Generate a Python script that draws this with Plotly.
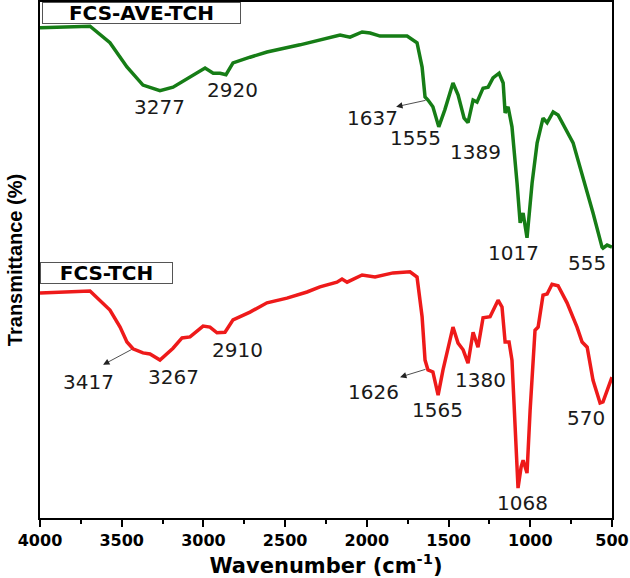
import plotly.graph_objects as go

# FTIR spectra (wavenumber in cm-1, transmittance in a.u.)
green_wn = [4000, 3694, 3572, 3468, 3370, 3266, 3186, 3100, 2990, 2940, 2898, 2862, 2819, 2715, 2611,
            2409, 2287, 2164, 2103, 2029, 1980, 1919, 1754, 1693, 1662, 1644, 1626, 1596, 1560, 1523,
            1473, 1442, 1405, 1381, 1350, 1326, 1289, 1258, 1228, 1191, 1166, 1154, 1136, 1112, 1081,
            1062, 1044, 1020, 989, 958, 922, 897, 860, 830, 738, 677, 616, 561, 555, 530, 500]
green_t = [95.0, 95.3, 92.1, 87.4, 83.9, 82.8, 83.5, 85.1, 87.2, 86.2, 86.2, 85.9, 88.2, 89.3, 90.3,
           91.7, 92.6, 93.6, 93.2, 94.2, 94.0, 93.4, 93.4, 92.1, 87.4, 81.6, 81.0, 79.7, 75.8, 79.1,
           84.3, 82.0, 77.5, 76.6, 81.0, 80.6, 83.3, 83.5, 85.3, 86.2, 84.3, 78.5, 79.7, 75.8, 64.9,
           57.2, 59.1, 54.3, 64.9, 72.7, 77.5, 76.6, 78.7, 78.1, 72.7, 66.1, 59.1, 52.5, 52.3, 52.9, 52.5]

red_wn = [4000, 3694, 3572, 3510, 3468, 3431, 3370, 3327, 3266, 3186, 3131, 3082, 3002, 2960, 2917,
          2868, 2819, 2715, 2611, 2489, 2366, 2287, 2183, 2152, 2121, 2029, 1950, 1840, 1736, 1693,
          1662, 1644, 1626, 1596, 1564, 1534, 1473, 1442, 1411, 1381, 1350, 1320, 1289, 1246, 1197,
          1173, 1154, 1130, 1112, 1093, 1075, 1056, 1044, 1020, 1001, 971, 952, 922, 897, 867,
          830, 775, 714, 683, 652, 616, 573, 555, 500]
red_t = [43.6, 44.0, 40.3, 37.0, 34.1, 32.8, 32.0, 31.8, 30.6, 32.9, 34.9, 35.1, 37.2, 37.0, 35.9,
         36.0, 38.4, 39.9, 41.7, 42.6, 43.8, 44.8, 45.7, 46.3, 45.7, 47.1, 46.7, 47.5, 47.7, 46.7,
         39.0, 30.6, 28.7, 28.3, 23.8, 28.7, 37.0, 33.9, 32.6, 30.0, 36.0, 33.1, 38.8, 39.0, 42.2,
         40.9, 34.1, 34.1, 30.6, 17.6, 5.8, 9.9, 11.2, 8.7, 20.9, 36.4, 37.0, 43.2, 43.4, 45.3,
         45.0, 41.7, 37.0, 34.1, 33.1, 26.7, 22.3, 22.5, 27.3]

# peak labels: text, label x (cm-1), label y
peak_text = ["3277", "2920", "1637", "1555", "1389", "1017", "555",
             "3417", "3267", "2910", "1626", "1565", "1380", "1068", "570"]
peak_x = [3266, 2825, 1968, 1705, 1338, 1105, 652,
          3706, 3186, 2794, 1962, 1570, 1307, 1050, 658]
peak_y = [79.7, 82.9, 77.5, 73.6, 70.9, 51.4, 49.4,
          26.4, 27.3, 32.6, 24.4, 20.9, 26.7, 2.9, 19.4]

# shoulder arrows: from curve point (tail) to head near label
arrow_tail_x = [1632, 3431, 1632]
arrow_tail_y = [81.0, 32.8, 28.9]
arrow_head_x = [1821, 3614, 1797]
arrow_head_y = [79.7, 29.7, 27.3]

tick_vals = [4000, 3500, 3000, 2500, 2000, 1500, 1000, 500]
minor_vals = [3750, 3250, 2750, 2250, 1750, 1250, 750]

fig = go.Figure()
fig.add_trace(go.Scatter(x=green_wn, y=green_t, mode='lines', name='FCS-AVE-TCH',
                         line=dict(color='#167d16', width=3.5)))
fig.add_trace(go.Scatter(x=red_wn, y=red_t, mode='lines', name='FCS-TCH',
                         line=dict(color='#ee1a1a', width=3.5)))

for t, x, y in zip(peak_text, peak_x, peak_y):
    fig.add_annotation(x=x, y=y, text=t, showarrow=False,
                       font=dict(family='DejaVu Sans', size=20, color='#1a1a1a'))

for tx, ty, hx, hy in zip(arrow_tail_x, arrow_tail_y, arrow_head_x, arrow_head_y):
    fig.add_annotation(x=hx, y=hy, ax=tx, ay=ty, axref='x', ayref='y', text='',
                       showarrow=True, arrowhead=2, arrowsize=1.6, arrowwidth=0.8,
                       arrowcolor='#222222')

# sample name boxes
fig.add_annotation(xref='paper', yref='paper', x=0.0035, y=1.0, xanchor='left', yanchor='top',
                   text='<b>FCS-AVE-TCH</b>', showarrow=False, width=195, height=18,
                   borderpad=1, bordercolor='#555555', borderwidth=1, bgcolor='white',
                   font=dict(family='DejaVu Sans', size=20, color='black'))
fig.add_annotation(xref='paper', yref='paper', x=0.0, y=0.496, xanchor='left', yanchor='top',
                   text='<b>FCS-TCH</b>', showarrow=False, width=129, height=18,
                   borderpad=1, bordercolor='#555555', borderwidth=1, bgcolor='white',
                   font=dict(family='DejaVu Sans', size=20, color='black'))

fig.update_layout(
    width=630, height=578,
    margin=dict(l=40, r=18, t=2, b=60),
    paper_bgcolor='white', plot_bgcolor='white',
    showlegend=False,
    xaxis=dict(
        range=[4000, 500], tickmode='array', tickvals=tick_vals,
        ticks='outside', ticklen=7, tickwidth=2, tickcolor='black',
        minor=dict(tickmode='array', tickvals=minor_vals, ticks='outside', ticklen=4,
                   tickwidth=2, tickcolor='black'),
        showline=True, linecolor='black', linewidth=2, mirror=True,
        showgrid=False, zeroline=False, automargin=False,
        tickfont=dict(family='DejaVu Sans', size=16, color='black', weight='bold'),
        title=dict(text='<b>Wavenumber (cm<sup>-1</sup>)</b>', standoff=4,
                   font=dict(family='DejaVu Sans', size=21, color='black')),
    ),
    yaxis=dict(
        range=[0, 100], showticklabels=False, ticks='',
        showline=True, linecolor='black', linewidth=2, mirror=True,
        showgrid=False, zeroline=False, automargin=False,
        title=dict(text='<b>Transmittance (%)</b>', standoff=10,
                   font=dict(family='Liberation Sans', size=20, color='black')),
    ),
)

# page body has a default 8px margin; drop it so the figure fills the window
fig.write_html("out.html", config={'displayModeBar': False},
               post_script="document.body.style.margin='0';")
